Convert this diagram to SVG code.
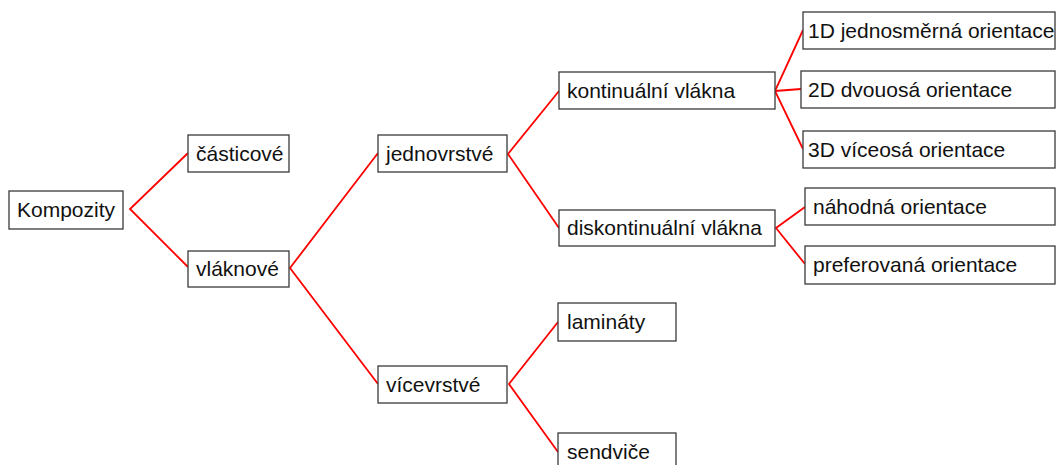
<svg xmlns="http://www.w3.org/2000/svg" width="1056" height="465" viewBox="0 0 1056 465">
<style>
.box{fill:#fff;stroke:#3a3a3a;stroke-width:1.3}
.t{font-family:"Liberation Sans",Arial,sans-serif;font-size:21px;fill:#111}
.c{stroke:#ff0000;stroke-width:1.8;fill:none}
</style>
<rect width="1056" height="465" fill="#fff"/>
<g id="connectors">
<polyline class="c" points="188,153 130,209 188,267"/>
<polyline class="c" points="378,153 290,268 378,384"/>
<polyline class="c" points="559,91 508,154 559,228"/>
<polyline class="c" points="558,322 509,384 558,452"/>
<polyline class="c" points="803,30 775,91 803,149"/>
<line class="c" x1="775" y1="91" x2="801" y2="89"/>
<polyline class="c" points="805,207 776,228 805,264"/>
</g>
<g id="n-kompozity"><rect class="box" x="9" y="191" width="114" height="38"/><text class="t" x="17" y="217">Kompozity</text></g>
<g id="n-casticove"><rect class="box" x="188" y="135" width="101" height="37"/><text class="t" x="196" y="161">částicové</text></g>
<g id="n-vlaknove"><rect class="box" x="188" y="251" width="101" height="36"/><text class="t" x="196" y="276">vláknové</text></g>
<g id="n-jednovrstve"><rect class="box" x="378" y="135" width="129" height="37"/><text class="t" x="386" y="161">jednovrstvé</text></g>
<g id="n-vicevrstve"><rect class="box" x="378" y="366" width="129" height="37"/><text class="t" x="386" y="392">vícevrstvé</text></g>
<g id="n-kontinualni"><rect class="box" x="559" y="72" width="216" height="37"/><text class="t" x="567" y="98">kontinuální vlákna</text></g>
<g id="n-diskontinualni"><rect class="box" x="559" y="210" width="216" height="36"/><text class="t" x="567" y="235">diskontinuální vlákna</text></g>
<g id="n-laminaty"><rect class="box" x="558" y="303" width="118" height="38"/><text class="t" x="567" y="329">lamináty</text></g>
<g id="n-sendvice"><rect class="box" x="558" y="433" width="118" height="38"/><text class="t" x="567" y="459">sendviče</text></g>
<g id="n-1d"><rect class="box" x="803" y="12" width="252" height="37"/><text class="t" x="808" y="38">1D jednosměrná orientace</text></g>
<g id="n-2d"><rect class="box" x="801" y="71" width="254" height="37"/><text class="t" x="808" y="97">2D dvouosá orientace</text></g>
<g id="n-3d"><rect class="box" x="803" y="131" width="252" height="37"/><text class="t" x="808" y="157">3D víceosá orientace</text></g>
<g id="n-nahodna"><rect class="box" x="805" y="188" width="250" height="37"/><text class="t" x="813" y="214">náhodná orientace</text></g>
<g id="n-preferovana"><rect class="box" x="805" y="246" width="250" height="38"/><text class="t" x="813" y="272">preferovaná orientace</text></g>
</svg>
